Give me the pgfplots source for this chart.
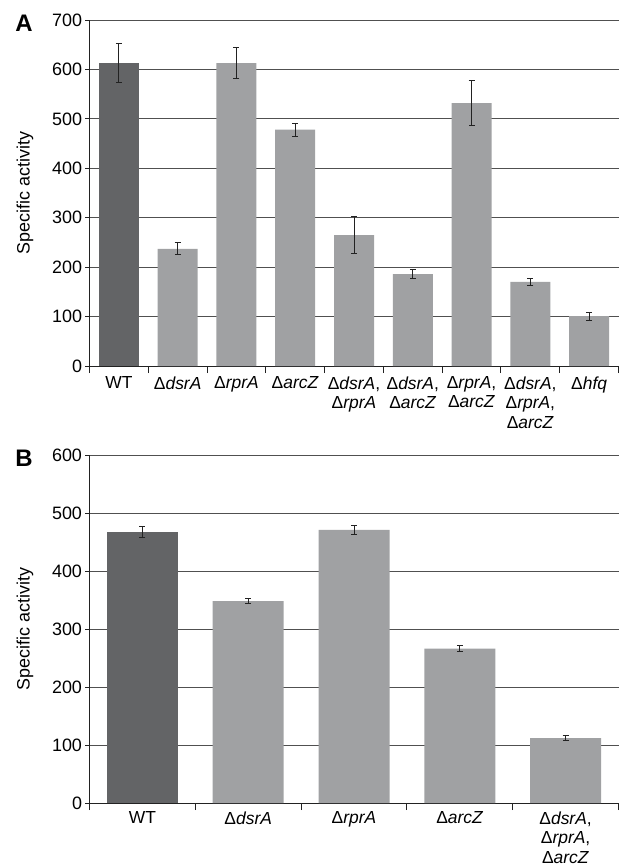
\documentclass[border=0pt]{standalone}
\usepackage{fontspec}
\setmainfont{Liberation Sans}
\usepackage{pgfplots}
\pgfplotsset{compat=1.18}
\definecolor{darkbar}{HTML}{636466}
\definecolor{lightbar}{HTML}{A0A1A3}
\definecolor{gridc}{HTML}{505050}
\definecolor{axc}{HTML}{222222}
\newcommand{\g}[1]{Δ\textit{#1}}
\pgfplotsset{
  panel/.style={
    scale only axis, width=529bp,
    anchor=south west,
    axis x line*=bottom, axis y line*=left,
    axis line style={axc, line width=1bp},
    ymajorgrids, grid style={gridc, line width=1bp},
    tick align=outside,
    major tick length=4bp, minor tick length=7bp,
    major x tick style={draw=none},
    minor x tick style={axc, line width=1bp},
    major y tick style={axc, line width=1bp},
    /pgf/number format/assume math mode=true,
    yticklabel style={font=\fontsize{18}{20}\selectfont},
    xticklabel style={font=\fontsize{17.5}{19.5}\selectfont, align=center, anchor=north, yshift=-3bp},
    ylabel={Specific activity},
    ylabel style={font=\fontsize{18}{20}\selectfont, at={(axis description cs:-0.1219,0.5)}, anchor=center},
  },
  barerr/.style={
    ybar, bar shift=0pt, draw=none,
    error bars/y dir=both, error bars/y explicit,
    error bars/error bar style={axc, line width=1bp},
    error bars/error mark options={axc, rotate=90, mark size=3bp, line width=1bp},
  },
}
\begin{document}
\begin{tikzpicture}
\begin{axis}[panel, at={(0,0)}, height=346bp,
  ymin=0, ymax=700, ytick={0,100,...,700},
  xmin=-0.5, xmax=8.5, xtick={0,...,8}, minor xtick={-0.5,0.5,...,8.5},
  xticklabels={WT, \g{dsrA}, \g{rprA}, \g{arcZ}, {\g{dsrA},\\\g{rprA}}, {\g{dsrA},\\\g{arcZ}}, {\g{rprA},\\\g{arcZ}}, {\g{dsrA},\\\g{rprA},\\\g{arcZ}}, \g{hfq}},
]
\addplot[barerr, bar width=40bp, fill=darkbar] coordinates {(0,613) +- (0,40)};
\addplot[barerr, bar width=40bp, fill=lightbar] coordinates {
  (1,237) +- (0,12)
  (2,613) +- (0,31)
  (3,478) +- (0,13)
  (4,265) +- (0,38)
  (5,186) +- (0,9)
  (6,532) +- (0,45)
  (7,170) +- (0,7)
  (8,101) +- (0,8)
};
\end{axis}
\begin{axis}[panel, at={(0,-437bp)}, height=348bp,
  ymin=0, ymax=600, ytick={0,100,...,600},
  xmin=-0.5, xmax=4.5, xtick={0,...,4}, minor xtick={-0.5,0.5,...,4.5},
  xticklabels={WT, \g{dsrA}, \g{rprA}, \g{arcZ}, {\g{dsrA},\\\g{rprA},\\\g{arcZ}}},
  xticklabel style={font=\fontsize{17.5}{19.5}\selectfont, yshift=2bp},
]
\addplot[barerr, bar width=71bp, fill=darkbar] coordinates {(0,467) +- (0,9)};
\addplot[barerr, bar width=71bp, fill=lightbar] coordinates {
  (1,348) +- (0,4.5)
  (2,471) +- (0,8)
  (3,266) +- (0,5)
  (4,112) +- (0,4)
};
\end{axis}
\node[font=\fontsize{24}{28}\selectfont\bfseries] at (-65.5bp,343bp) {A};
\node[font=\fontsize{24}{28}\selectfont\bfseries] at (-65.5bp,-92bp) {B};
\pgfresetboundingbox
\path[use as bounding box] (-89.5bp,366bp) rectangle (529.5bp,-501bp);
\end{tikzpicture}
\end{document}
